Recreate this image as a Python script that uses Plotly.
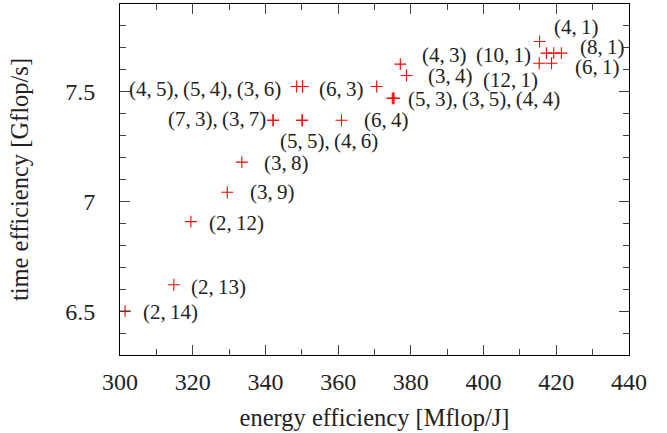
import plotly.graph_objects as go

# configurations (p, q); None for the unlabelled point
p_vals = [2, 2, 2, 3, 3, 7, 3, 5, 4, 6, 4, 5, 3, 6, 5, 3, 4, 4, 3, 4, 10, None, 8, 12, 6]
q_vals = [14, 13, 12, 9, 8, 3, 7, 5, 6, 4, 5, 4, 6, 3, 3, 5, 4, 3, 4, 1, 1, None, 1, 1, 1]
energy = [301.4, 314.8, 319.5, 329.5, 333.5, 342.1, 342.1, 350.1, 350.1, 360.9,
          348.6, 350.2, 350.2, 370.6, 374.9, 375.3, 375.3, 377.1, 378.8,
          415.4, 417.3, 419.3, 421.4, 415.3, 418.7]
time_eff = [6.500, 6.620, 6.908, 7.042, 7.179, 7.370, 7.370, 7.370, 7.370, 7.370,
            7.524, 7.524, 7.524, 7.524, 7.470, 7.470, 7.470, 7.626, 7.574,
            7.729, 7.676, 7.676, 7.676, 7.630, 7.630]

x_ticks = [300, 320, 340, 360, 380, 400, 420, 440]
y_ticks = [6.5, 7, 7.5]

# label groups: (point indices, anchor, xshift, yshift)
label_groups = [
    ([10, 11, 12], "right", -14, -2.6),
    ([13], "right", -12, -2.3),
    ([5, 6], "right", -5, 1.4),
    ([7, 8], "center", 27, -21),
    ([9], "left", 21, 0.7),
    ([4], "left", 20, -0.6),
    ([3], "left", 21, 0),
    ([2], "left", 16, -1),
    ([1], "left", 15, -1.8),
    ([0], "left", 16, -0.7),
    ([19], "left", 12, 14.4),
    ([22], "left", 17, 6),
    ([24], "left", 21, -3.4),
    ([20], "right", -13, -1.7),
    ([23], "right", 1, -16.7),
    ([17], "left", 20, 9.3),
    ([18], "left", 20, 0),
    ([14, 15, 16], "left", 14, -0.8),
]

TS = "\u2009"
FONT = "Liberation Serif"


def cfg(i):
    return f"({p_vals[i]},{TS}{q_vals[i]})"


fig = go.Figure()
fig.add_trace(go.Scatter(
    x=energy, y=time_eff, mode="markers",
    marker=dict(symbol="cross-thin", size=8.5, line=dict(color="#ff0000", width=1.1), color="#ff0000"),
    showlegend=False, hoverinfo="skip",
))

for idx, anchor, dx, dy in label_groups:
    text = f",{TS}".join(cfg(i) for i in idx)
    i0 = idx[0]
    fig.add_annotation(
        x=energy[i0], y=time_eff[i0], text=text, showarrow=False,
        xanchor=anchor, yanchor="middle", xshift=dx, yshift=dy,
        font=dict(family=FONT, size=21, color="#222"),
    )

axis_common = dict(
    showline=True, linecolor="black", linewidth=1, mirror="allticks",
    ticks="inside", ticklen=10, tickcolor="#444", tickwidth=1,
    showgrid=False, zeroline=False, automargin=False,
    tickfont=dict(family=FONT, size=24, color="#222"),
)

fig.update_xaxes(
    range=[300, 440], tickvals=x_ticks, ticktext=[str(v) for v in x_ticks],
    minor=dict(dtick=10, ticklen=6, ticks="inside", tickcolor="#444", showgrid=False),
    ticklabelstandoff=5,
    title=dict(text="energy efficiency [Mflop/J]", font=dict(family=FONT, size=24.5, color="#222"), standoff=15),
    **axis_common,
)
fig.update_yaxes(
    range=[6.3, 7.9], tickvals=y_ticks, ticktext=[str(v) for v in y_ticks],
    minor=dict(dtick=0.1, tick0=6.3, ticklen=6, ticks="inside", tickcolor="#444", showgrid=False),
    ticklabelstandoff=19,
    title=dict(text="time efficiency [Gflop/s]", font=dict(family=FONT, size=24.5, color="#222"), standoff=29),
    **axis_common,
)

fig.update_layout(
    width=667, height=433,
    margin=dict(l=120, r=38, t=4, b=78),
    paper_bgcolor="white", plot_bgcolor="white",
    hovermode=False,
)

fig.write_html("out.html", config={"staticPlot": True, "displayModeBar": False},
               post_script="document.body.style.margin='0';")
